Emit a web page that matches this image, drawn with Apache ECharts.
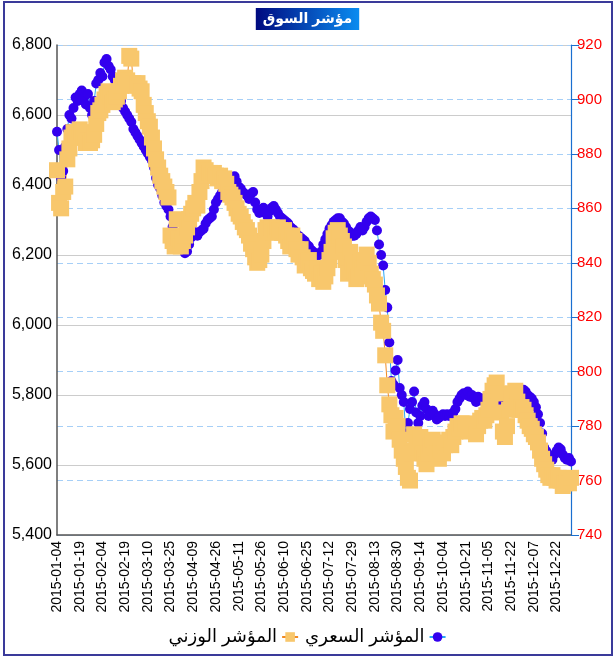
<!DOCTYPE html>
<html>
<head>
<meta charset="utf-8">
<script src="https://cdn.jsdelivr.net/npm/echarts@6/dist/echarts.min.js"></script>
<style>
  body { margin: 0; background: #fff; }
  #wrap { position: relative; width: 615px; height: 658px; }
  #main { position: absolute; left: 0; top: 0; width: 615px; height: 658px; }
  #frame { position: absolute; left: 3px; top: 1px; width: 606px; height: 651px; border: 2px solid #3a3a9a; pointer-events: none; }
</style>
</head>
<body>
<div id="wrap"><div id="main"></div><div id="frame"></div></div>
<script>
// trading days (Sun-Thu) from 2015-01-04, minus days missing in the data
var firstDay = '2015-01-04', lastDay = '2015-12-31';
var missingDays = ['2015-01-25', '2015-02-22', '2015-03-01', '2015-07-16', '2015-07-19',
    '2015-09-20', '2015-09-21', '2015-09-22', '2015-10-05', '2015-10-06'];

var leftTicks = { min: 5400, max: 6800, step: 200 };
var rightTicks = { min: 740, max: 920, step: 20 };

var seriesNames = ['المؤشر السعري', 'المؤشر الوزني'];

// المؤشر السعري (left axis)
var priceIndex = [
    6552, 6500, 6420, 6440, 6510, 6560, 6600, 6590, 6620, 6650, 6640,
    6660, 6670, 6650, 6630, 6660, 6620, 6600, 6640, 6690, 6700, 6720,
    6710, 6750, 6760, 6740, 6730, 6710, 6700, 6680, 6660, 6640, 6620,
    6610, 6600, 6590, 6580, 6560, 6550, 6540, 6530, 6520, 6510, 6500,
    6490, 6480, 6470, 6450, 6420, 6400, 6390, 6370, 6350, 6340, 6330,
    6310, 6280, 6230, 6220, 6240, 6230, 6215, 6205, 6210, 6230, 6250,
    6260, 6265, 6255, 6265, 6270, 6275, 6290, 6300, 6305, 6310, 6330,
    6350, 6360, 6370, 6380, 6395, 6405, 6410, 6415, 6420, 6425, 6410,
    6395, 6390, 6380, 6375, 6370, 6360, 6375, 6380, 6350, 6330, 6320,
    6330, 6335, 6320, 6310, 6325, 6335, 6340, 6330, 6320, 6310, 6305,
    6300, 6295, 6290, 6280, 6275, 6270, 6260, 6255, 6250, 6245, 6240,
    6230, 6225, 6215, 6210, 6205, 6200, 6200, 6210, 6230, 6245, 6260,
    6275, 6285, 6295, 6300, 6305, 6305, 6295, 6290, 6280, 6270, 6265,
    6255, 6255, 6260, 6270, 6280, 6270, 6280, 6295, 6305, 6310, 6305,
    6300, 6270, 6230, 6200, 6170, 6100, 6050, 5950, 5840, 5830, 5870,
    5900, 5820, 5800, 5780, 5690, 5720, 5760, 5780, 5810, 5750, 5720,
    5740, 5770, 5780, 5760, 5740, 5750, 5755, 5745, 5730, 5735, 5740,
    5745, 5740, 5745, 5740, 5745, 5750, 5760, 5780, 5790, 5800, 5805,
    5800, 5810, 5795, 5800, 5790, 5780, 5795, 5785, 5790, 5780, 5775,
    5770, 5765, 5760, 5770, 5780, 5785, 5790, 5795, 5800, 5805, 5800,
    5810, 5815, 5810, 5805, 5800, 5810, 5815, 5810, 5800, 5795, 5790,
    5780, 5765, 5745, 5720, 5690, 5650, 5640, 5630, 5620, 5615, 5630,
    5640, 5650, 5645, 5630, 5620, 5615, 5620, 5610
];

// المؤشر الوزني (right axis)
var weightedIndex = [
    874, 862, 860, 866, 868, 878, 882, 886, 888, 887, 886,
    889, 888, 886, 884, 885, 884, 885, 887, 891, 895, 896,
    898, 900, 902, 903, 901, 899, 900, 901, 903, 905, 907,
    908, 907, 916, 915, 906, 905, 906, 904, 903, 898, 895,
    892, 890, 886, 882, 878, 875, 872, 870, 868, 866, 864,
    850, 848, 846, 856, 849, 846, 848, 850, 853, 856, 858,
    860, 862, 861, 866, 870, 875, 874, 872, 873, 872, 873,
    872, 871, 872, 870, 871, 869, 866, 865, 864, 862, 860,
    858, 857, 855, 853, 852, 850, 847, 845, 842, 840, 841,
    843, 848, 852, 853, 852, 853, 851, 852, 853, 852, 851,
    852, 850, 848, 846, 850, 848, 845, 843, 845, 842, 839,
    840, 841, 838, 837, 836, 838, 834, 836, 833, 835, 838,
    841, 844, 849, 851, 852, 850, 848, 846, 841, 836, 844,
    840, 837, 834, 835, 840, 838, 841, 843, 840, 836, 834,
    832, 828, 825, 818, 815, 806, 795, 788, 784, 778, 783,
    780, 775, 771, 768, 765, 761, 760, 770, 777, 774, 772,
    776, 770, 768, 766, 770, 773, 775, 772, 770, 768, 771,
    770, 773, 774, 775, 773, 776, 778, 780, 779, 781, 780,
    781, 779, 778, 780, 779, 777, 780, 782, 783, 782, 784,
    786, 790, 793, 795, 796, 792, 785, 778, 776, 780, 786,
    790, 792, 793, 789, 786, 787, 786, 784, 782, 780, 779,
    777, 776, 774, 771, 768, 766, 764, 762, 761, 762, 761,
    760, 761, 760, 758, 759, 760, 759, 761
];

function tradingDays() {
    var out = [];
    var d = new Date(firstDay + 'T00:00:00Z');
    var end = new Date(lastDay + 'T00:00:00Z');
    while (d <= end) {
        var s = d.toISOString().slice(0, 10);
        var wd = d.getUTCDay();
        if (wd !== 5 && wd !== 6 && missingDays.indexOf(s) < 0) out.push(s);
        d.setUTCDate(d.getUTCDate() + 1);
    }
    return out;
}
var dates = tradingDays();

var font = 'Liberation Sans, Arial, DejaVu Sans, sans-serif';
var myChart = echarts.init(document.getElementById('main'));

var option = {
    backgroundColor: '#fff',
    animation: false,
    title: {
        text: 'مؤشر السوق',
        left: 'center',
        top: 8,
        padding: [4, 7, 4, 7],
        backgroundColor: new echarts.graphic.LinearGradient(0, 0, 1, 0, [
            { offset: 0, color: '#000a80' },
            { offset: 1, color: '#0a8cf0' }
        ]),
        textStyle: { color: '#fff', fontSize: 14, fontWeight: 'bold', fontFamily: font }
    },
    legend: {
        data: [seriesNames[1], seriesNames[0]],
        bottom: 7,
        left: 'center',
        align: 'right',
        itemGap: 6,
        itemWidth: 16,
        itemHeight: 12,
        textStyle: { color: '#000', fontSize: 18, fontFamily: font }
    },
    grid: { left: 57, right: 44, top: 45, bottom: 123 },
    xAxis: {
        type: 'category',
        data: dates,
        boundaryGap: false,
        axisLine: { lineStyle: { color: '#555', width: 1.5 } },
        axisTick: { show: false },
        axisLabel: { rotate: 90, interval: 10, color: '#000', fontSize: 14, fontFamily: font, margin: 6 }
    },
    yAxis: [
        {
            type: 'value',
            min: leftTicks.min, max: leftTicks.max, interval: leftTicks.step,
            axisLine: { show: true, lineStyle: { color: '#555', width: 1.5 } },
            axisTick: { show: false },
            axisLabel: {
                color: '#000', fontSize: 16, fontFamily: font, margin: 5,
                formatter: function (v) { return v.toLocaleString('en-US'); }
            },
            splitLine: { show: true, lineStyle: { color: '#cccccc', type: 'solid' } }
        },
        {
            type: 'value',
            min: rightTicks.min, max: rightTicks.max, interval: rightTicks.step,
            axisLine: { show: true, lineStyle: { color: '#1a6fd0', width: 1.2 } },
            axisTick: { show: true, length: 8, lineStyle: { color: '#1a6fd0' } },
            axisLabel: { color: '#ff0000', fontSize: 15, fontFamily: font, margin: 6 },
            splitLine: { show: true, lineStyle: { color: '#a6cff7', type: [6, 4] } }
        }
    ],
    series: [
        {
            name: seriesNames[0],
            type: 'line',
            yAxisIndex: 0,
            data: priceIndex,
            symbol: 'circle',
            symbolSize: 10,
            showAllSymbol: true,
            lineStyle: { color: '#2aa8f5', width: 1 },
            itemStyle: { color: '#3300ee' }
        },
        {
            name: seriesNames[1],
            type: 'line',
            yAxisIndex: 1,
            data: weightedIndex,
            symbol: 'rect',
            symbolSize: 16,
            showAllSymbol: true,
            lineStyle: { color: '#f08a24', width: 1 },
            itemStyle: { color: '#f8c76c' }
        }
    ]
};

myChart.setOption(option);
window.addEventListener('resize', function () {
    myChart.resize();
});
</script>
</body>
</html>
